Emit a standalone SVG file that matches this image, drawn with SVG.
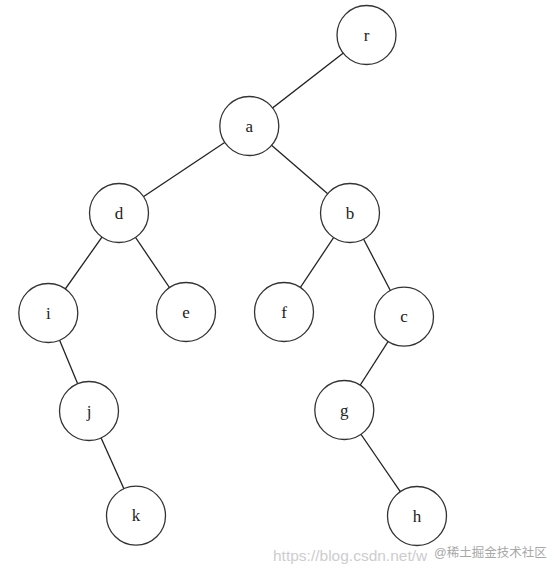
<svg xmlns="http://www.w3.org/2000/svg" width="554" height="574" viewBox="0 0 554 574">
<style>
.n circle{fill:#fff;stroke:#333;stroke-width:1.3}
.n text{font-family:"Liberation Serif","DejaVu Serif",serif;font-size:17px;fill:#222;text-anchor:middle;dominant-baseline:central}
#edges line{stroke:#222;stroke-width:1.3}
.wm{font-family:"Liberation Sans","Noto Sans CJK SC",sans-serif}
</style>
<rect width="554" height="574" fill="#fff"/>
<g id="edges">
<line x1="366.5" y1="35" x2="249.3" y2="126"/>
<line x1="249.3" y1="126" x2="119" y2="213"/>
<line x1="249.3" y1="126" x2="350" y2="213"/>
<line x1="119" y1="213" x2="48.3" y2="313"/>
<line x1="119" y1="213" x2="186" y2="312"/>
<line x1="350" y1="213" x2="284" y2="312"/>
<line x1="350" y1="213" x2="404" y2="316.7"/>
<line x1="48.3" y1="313" x2="89" y2="411"/>
<line x1="89" y1="411" x2="136" y2="515.7"/>
<line x1="404" y1="316.7" x2="344.3" y2="410"/>
<line x1="344.3" y1="410" x2="417" y2="516"/>
</g>
<g id="node-r" class="n"><circle cx="366.5" cy="35" r="29.5"/><text x="366.5" y="35">r</text></g>
<g id="node-a" class="n"><circle cx="249.3" cy="126" r="29.5"/><text x="249.3" y="126">a</text></g>
<g id="node-d" class="n"><circle cx="119" cy="213" r="29.5"/><text x="119" y="213">d</text></g>
<g id="node-b" class="n"><circle cx="350" cy="213" r="29.5"/><text x="350" y="213">b</text></g>
<g id="node-i" class="n"><circle cx="48.3" cy="313" r="29.5"/><text x="48.3" y="313">i</text></g>
<g id="node-e" class="n"><circle cx="186" cy="312" r="29.5"/><text x="186" y="312">e</text></g>
<g id="node-f" class="n"><circle cx="284" cy="312" r="29.5"/><text x="284" y="312">f</text></g>
<g id="node-c" class="n"><circle cx="404" cy="316.7" r="29.5"/><text x="404" y="316.7">c</text></g>
<g id="node-j" class="n"><circle cx="89" cy="411" r="29.5"/><text x="89" y="411">j</text></g>
<g id="node-g" class="n"><circle cx="344.3" cy="410" r="29.5"/><text x="344.3" y="410">g</text></g>
<g id="node-k" class="n"><circle cx="136" cy="515.7" r="29.5"/><text x="136" y="515.7">k</text></g>
<g id="node-h" class="n"><circle cx="417" cy="516" r="29.5"/><text x="417" y="516">h</text></g>
<text class="wm" x="273" y="561" font-size="15.5" fill="#cdcdcd">https://blog.csdn.net/w</text>
<text class="wm" x="434" y="557" font-size="12.5" fill="#a8a8a8">@稀土掘金技术社区</text>
</svg>
